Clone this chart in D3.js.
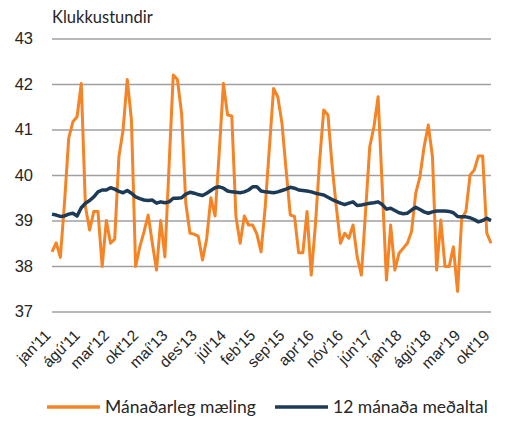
<!DOCTYPE html>
<html>
<head>
<meta charset="utf-8">
<script src="https://cdn.jsdelivr.net/npm/d3@7"></script>
<style>
  body { margin: 0; background: #fff; }
  svg { font-family: Lato, 'Open Sans', sans-serif; }
  .axis path.domain { display: none; }
  .axis-y line { stroke: #a0a0a0; stroke-width: 1.5; }
  .axis-x line { display: none; }
  .axis text { fill: #262626; }
</style>
</head>
<body>
<div class="line-chart"><svg></svg></div>
<script>
// months jan'11 .. okt'19
const monthLabels = ['jan', 'feb', 'mar', 'apr', 'maí', 'jún', 'júl', 'ágú', 'sep', 'okt', 'nóv', 'des'];

const monthly = [
  38.31, 38.51, 38.19, 39.4, 40.81, 41.17, 41.28, 42.01, 39.3, 38.79, 39.2, 39.2,
  37.99, 39.0, 38.5, 38.59, 40.4, 40.99, 42.1, 41.21, 37.99, 38.42, 38.75, 39.12,
  38.5, 37.91, 39.0, 38.2, 40.2, 42.2, 42.1, 41.35, 39.38, 38.72, 38.7, 38.65,
  38.13, 38.6, 39.5, 39.1, 40.5, 42.01, 41.32, 41.3, 39.08, 38.5, 39.1, 38.9,
  38.9, 38.7, 38.31, 39.3, 40.6, 41.9, 41.72, 41.14, 40.1, 39.12, 39.09, 38.29,
  38.29, 39.2, 37.8, 38.9, 40.3, 41.43, 41.32, 40.2, 39.3, 38.5, 38.72, 38.61,
  38.9, 38.2, 37.8, 39.2, 40.62, 41.06, 41.72, 39.7, 37.69, 38.9, 37.91, 38.28,
  38.39, 38.5, 38.76, 39.6, 39.96, 40.62, 41.1, 40.4, 37.91, 39.01, 37.99, 37.99,
  38.42, 37.44, 39.05, 39.2, 40.0, 40.11, 40.42, 40.42, 38.72, 38.5
];

const avg12 = [
  39.14, 39.12, 39.09, 39.1, 39.14, 39.16, 39.1, 39.28, 39.38, 39.44, 39.52, 39.63,
  39.67, 39.67, 39.72, 39.69, 39.64, 39.61, 39.66, 39.6, 39.52, 39.48, 39.45, 39.44,
  39.45, 39.38, 39.41, 39.39, 39.41, 39.49, 39.49, 39.5, 39.58, 39.62, 39.6, 39.57,
  39.55, 39.6, 39.66, 39.72, 39.74, 39.71, 39.65, 39.63, 39.62, 39.61, 39.63, 39.67,
  39.74, 39.74, 39.65, 39.63, 39.62, 39.61, 39.63, 39.66, 39.69, 39.73, 39.71, 39.67,
  39.66, 39.65, 39.63, 39.6, 39.58, 39.56, 39.51, 39.46, 39.42, 39.38, 39.35, 39.38,
  39.41, 39.33, 39.34, 39.36, 39.38, 39.39, 39.41, 39.35, 39.25, 39.27, 39.22, 39.17,
  39.15, 39.16, 39.23, 39.29, 39.24, 39.19, 39.16, 39.19, 39.21, 39.21, 39.21, 39.2,
  39.17, 39.09, 39.08, 39.08, 39.06, 39.02, 38.97, 39.0, 39.05, 39.0
];

const yTicks = [37, 38, 39, 40, 41, 42, 43];
const seriesNames = ['Mánaðarleg mæling', '12 mánaða meðaltal'];
const seriesColors = ['#f58426', '#1d3a57'];

const w = 507;
const h = 426;
const margin = { top: 38.5, right: 16, bottom: 114.5, left: 52 };

const data = monthly.map((v, i) => ({
  i,
  label: `${monthLabels[i % 12]}'${11 + Math.floor(i / 12)}`,
  monthly: v,
  avg: avg12[i]
}));

const svg = d3.select('svg').attr('width', w).attr('height', h);

const x = d3.scaleLinear()
  .domain([0, data.length - 1])
  .range([margin.left, w - margin.right]);

const y = d3.scaleLinear()
  .domain([37, 43])
  .range([h - margin.bottom, margin.top]);

// y axis + gridlines
svg.append('g')
  .attr('class', 'axis axis-y')
  .attr('transform', `translate(${margin.left},0)`)
  .call(d3.axisLeft(y)
    .tickValues(yTicks)
    .tickSize(-(w - margin.left - margin.right))
    .tickPadding(19)
    .tickFormat(d3.format('d')))
  .selectAll('text')
  .style('font-size', '16.5px');

// x axis labels, every 7th month, rotated
const xTickIdx = d3.range(0, data.length, 7);
svg.append('g')
  .attr('class', 'axis axis-x')
  .attr('transform', `translate(0,${h - margin.bottom})`)
  .call(d3.axisBottom(x)
    .tickValues(xTickIdx)
    .tickSize(0)
    .tickPadding(0)
    .tickFormat(i => data[i].label))
  .selectAll('text')
  .style('font-size', '15.5px')
  .attr('text-anchor', 'end')
  .attr('dy', null)
  .attr('y', 0)
  .attr('transform', 'translate(-1,25) rotate(-45)');

// unit label
svg.append('text')
  .attr('x', margin.left)
  .attr('y', 23)
  .style('font-size', '16.5px')
  .style('fill', '#262626')
  .text('Klukkustundir');

const lineMonthly = d3.line().x(d => x(d.i)).y(d => y(d.monthly));
const lineAvg = d3.line().x(d => x(d.i)).y(d => y(d.avg));

svg.append('path')
  .datum(data)
  .attr('fill', 'none')
  .attr('stroke', seriesColors[0])
  .attr('stroke-width', 3)
  .attr('stroke-linejoin', 'round')
  .attr('d', lineMonthly);

svg.append('path')
  .datum(data)
  .attr('fill', 'none')
  .attr('stroke', seriesColors[1])
  .attr('stroke-width', 3.5)
  .attr('stroke-linejoin', 'round')
  .attr('d', lineAvg);

// legend
const legend = svg.append('g').attr('transform', 'translate(0,407)');
const legendX = [47, 275];
seriesNames.forEach((name, k) => {
  const g = legend.append('g').attr('transform', `translate(${legendX[k]},0)`);
  g.append('line')
    .attr('x1', 0).attr('x2', 53)
    .attr('stroke', seriesColors[k])
    .attr('stroke-width', 3.5);
  g.append('text')
    .attr('x', 58)
    .attr('y', 6)
    .style('font-size', '17.5px')
    .style('fill', '#262626')
    .text(name);
});
</script>
</body>
</html>
